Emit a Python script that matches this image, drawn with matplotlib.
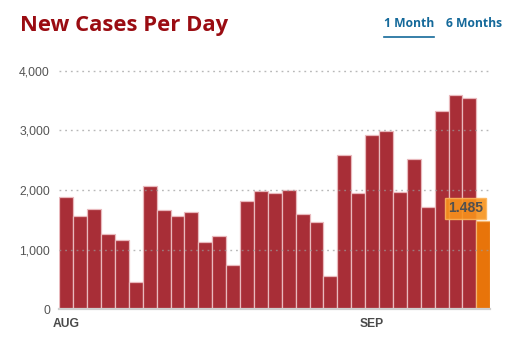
import matplotlib
matplotlib.use("Agg")
import matplotlib.pyplot as plt

# ---- data ----
values = [1877, 1559, 1676, 1257, 1157, 453, 2073, 1660, 1559, 1632,
          1123, 1224, 738, 1816, 1990, 1945, 2001, 1598, 1470, 559,
          2582, 1945, 2928, 2990, 1967, 2515, 1710, 3330, 3587, 3537, 1485]
month_labels = ["AUG", "SEP"]
month_positions = [0, 22]
yticks = [0, 1000, 2000, 3000, 4000]
ytick_labels = ["0", "1,000", "2,000", "3,000", "4,000"]
title = "New Cases Per Day"
tabs = ["1 Month", "6 Months"]
last_label = "1.485"

BAR = "#a82e37"
LAST = "#e8740a"
GRAY = "#555555"

W, H = 516, 347
fig = plt.figure(figsize=(W / 100, H / 100), dpi=100)
ax = fig.add_axes([59.3 / W, 37.7 / H, 431 / W, 238.6 / H])

n = len(values)
xs = list(range(n))
colors = [BAR] * (n - 1) + [LAST]
edges = ["#e9b9bd"] * (n - 1) + ["#f6b56e"]
ax.bar(xs, values, width=1.0, color=colors, edgecolor=edges, linewidth=0.9, zorder=2)

ax.set_xlim(-0.5, n - 0.5)
ax.set_ylim(0, 4000)

# grid lines (dotted, on top of bars)
for y in yticks[1:]:
    ax.plot([-0.5, n - 0.6], [y, y], color="#9a9a9a", alpha=0.7, lw=1.0,
            linestyle=(0, (1.3, 2.8)), zorder=3, clip_on=False)
ax.plot([-0.5, n - 0.5], [0, 0], color="#cfcfcf", lw=1.6, zorder=4, clip_on=False)

for s in ax.spines.values():
    s.set_visible(False)

ax.set_yticks(yticks)
ax.set_yticklabels(ytick_labels, fontfamily="Liberation Sans", fontsize=8.8, color=GRAY)
ax.tick_params(axis="y", length=0, pad=6.7)
ax.set_xticks(month_positions)
ax.set_xticklabels(month_labels, fontfamily="Liberation Sans", fontsize=8.7,
                   fontweight="bold", color="#4a4a4a")
ax.tick_params(axis="x", length=0, pad=6.5)

# last value label
ax.annotate(last_label, xy=(n - 1, values[-1]), xytext=(-12.7, 8.8),
            textcoords="offset points", ha="center", va="center",
            fontfamily="Liberation Sans", fontsize=10, fontweight="bold",
            color="#505050", zorder=6,
            bbox=dict(boxstyle="square,pad=0.22", fc="#f7921c", ec="#fbb45a",
                      lw=1.0, alpha=0.9))

# title and tabs
fig.text(20.5 / W, 1 - 30.7 / H, title, fontfamily="Open Sans", fontweight="bold",
         fontsize=15.8, color="#9a0c12", ha="left", va="baseline")
BLUE = "#14699a"
fig.text(384 / W, 1 - 27.3 / H, tabs[0], fontfamily="Open Sans", fontweight="bold",
         fontsize=8.7, color=BLUE, ha="left", va="baseline")
fig.text(445.7 / W, 1 - 27.3 / H, tabs[1], fontfamily="Open Sans", fontweight="bold",
         fontsize=8.7, color=BLUE, ha="left", va="baseline")
fig.add_artist(plt.Line2D([384 / W, 434 / W], [1 - 37.3 / H, 1 - 37.3 / H],
                          color=BLUE, lw=1.2))

fig.savefig("out.png", dpi=100)
